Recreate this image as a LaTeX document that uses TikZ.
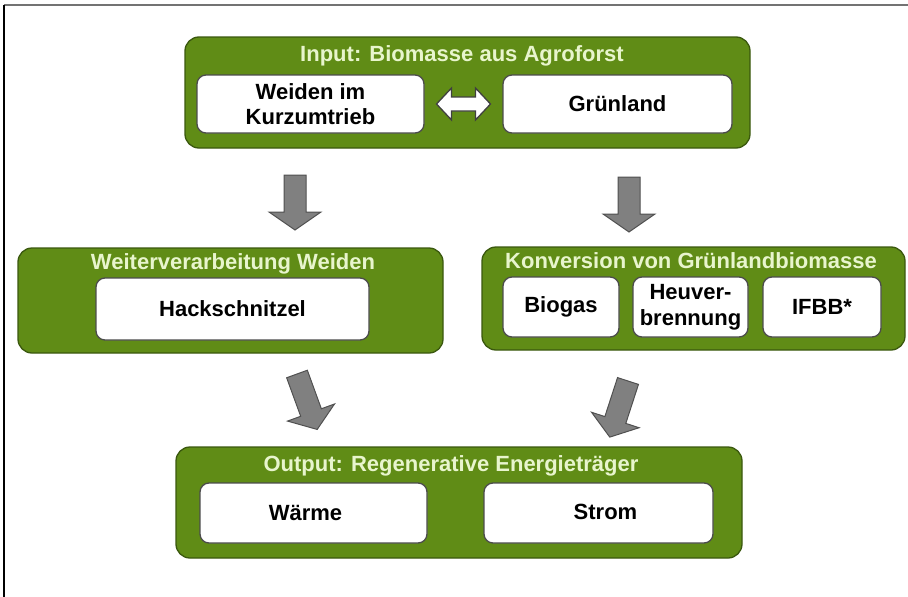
\documentclass[tikz,border=0pt]{standalone}
\usepackage{fontspec}
\setmainfont{Liberation Sans}
\definecolor{gfill}{RGB}{96,140,22}
\definecolor{gdark}{RGB}{58,88,14}
\definecolor{gtext}{RGB}{232,245,205}
\definecolor{agray}{RGB}{128,128,128}
\definecolor{aborder}{RGB}{80,80,80}
\tikzset{
  greenbox/.style={draw=gdark, fill=gfill, line width=1.3pt, rounded corners=14pt, inner sep=0pt},
  whitebox/.style={draw=black!70, fill=white, line width=1.3pt, rounded corners=9pt, inner sep=0pt,
    align=center, text=black, font=\bfseries\fontsize{22}{25}\selectfont},
  titletext/.style={text=gtext, inner sep=0pt, font=\bfseries\fontsize{22}{25}\selectfont},
  grayarrow/.style={draw=aborder, fill=agray, line width=1pt, line join=miter},
  whitearrow/.style={draw=black!75, fill=white, line width=1.3pt, line join=miter},
  downarr/.pic={\draw[grayarrow] (-11,0) -- (-11,37) -- (-26,37) -- (0,55) -- (26,37) -- (11,37) -- (11,0) -- cycle;},
  diagarr/.pic={\draw[grayarrow] (-11,0) -- (-11,41) -- (-25,41) -- (0,59) -- (25,41) -- (11,41) -- (11,0) -- cycle;},
  dblarr/.pic={\draw[whitearrow] (-27,0) -- (-12,-16) -- (-12,-7) -- (12,-7) -- (12,-16) -- (27,0) -- (12,16) -- (12,7) -- (-12,7) -- (-12,16) -- cycle;}
}
\begin{document}
\begin{tikzpicture}[x=1pt,y=-1pt]
\useasboundingbox (0,0) rectangle (908,597);
% frame
\coordinate (fTL) at (4,5);
\coordinate (fTR) at (908,5);
\coordinate (fBL) at (4,597);
\draw[black!55, line width=2pt] (fTL) -- (fTR);
\draw[black, line width=1.6pt] (fTL) -- (fBL);

% top group
\node[greenbox, minimum width=565, minimum height=111] (top) at (467.5,92.5) {};
\node[titletext] (toptitle) at (462,56) {Input: Biomasse aus Agroforst};
\node[whitebox, minimum width=227, minimum height=58] (weiden) at (310.5,104) {Weiden im\\Kurzumtrieb};
\node[whitebox, minimum width=229, minimum height=58] (gruen) at (617.5,104) {Grünland};
\pic (dbl) at (463.5,104) {dblarr};

% left middle
\node[greenbox, minimum width=425, minimum height=105] (lmid) at (230.5,300.5) {};
\node[titletext] (lmidtitle) at (233,264) {Weiterverarbeitung Weiden};
\node[whitebox, minimum width=273, minimum height=62] (hack) at (232.5,309) {Hackschnitzel};

% right middle
\node[greenbox, minimum width=423, minimum height=103] (rmid) at (693.5,298.5) {};
\node[titletext] (rmidtitle) at (691,261) {Konversion von Grünlandbiomasse};
\node[whitebox, minimum width=116, minimum height=60] (biogas) at (561,307) {Biogas};
\node[whitebox, minimum width=115, minimum height=60, font=\bfseries\fontsize{22}{26}\selectfont] (heu) at (690.5,307) {Heuver-\\brennung};
\node[whitebox, minimum width=118, minimum height=60] (ifbb) at (822,307) {IFBB*};

% bottom
\node[greenbox, minimum width=566, minimum height=111] (bot) at (459,502.5) {};
\node[titletext] (bottitle) at (451,466) {Output: Regenerative Energieträger};
\node[whitebox, minimum width=227, minimum height=60] (waerme) at (313.5,513) {Wärme\hspace*{16pt}};
\node[whitebox, minimum width=229, minimum height=60] (strom) at (598.5,513) {\raisebox{3pt}{\hspace*{14pt}Strom}};

% block arrows
\pic (aL) at (295,175) {downarr};
\pic (aR) at (629,177) {downarr};
\pic[rotate=20] (dL) at (297,374) {diagarr};
\pic[rotate=-18] (dR) at (628,381) {diagarr};
\end{tikzpicture}
\end{document}
